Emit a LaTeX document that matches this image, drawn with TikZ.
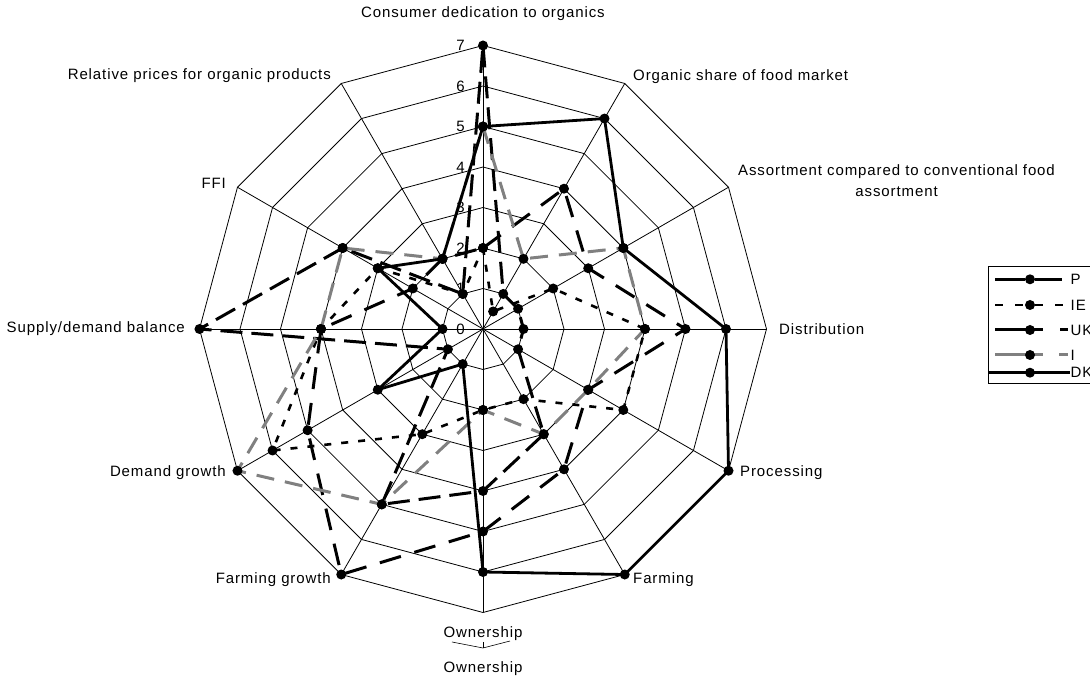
\documentclass[tikz,border=0pt]{standalone}
\usepackage{fontspec}
\setmainfont{Liberation Sans}
\newfontfamily\chartfont[LetterSpace=6]{Liberation Sans}
\begin{document}
\begin{tikzpicture}[x=1pt,y=1pt,
  grid/.style={line width=0.8pt, black},
  lab/.style={font=\chartfont\fontsize{15}{21.6}\selectfont, inner sep=0pt},
  serP/.style={line width=3pt, black, dash pattern=on 22pt off 9pt},
  serIE/.style={line width=2.6pt, black, dash pattern=on 7pt off 10pt},
  serUK/.style={line width=3pt, black, dash pattern=on 22pt off 14pt},
  serI/.style={line width=3pt, black!50, dash pattern=on 18pt off 11pt},
  serDK/.style={line width=2.8pt, black},
  keyP/.style={serP, dash pattern=on 30pt off 10pt},
  keyIE/.style={serIE, dash pattern=on 8pt off 12pt},
  keyUK/.style={serUK, dash pattern=on 48pt off 17pt},
  keyI/.style={serI, dash pattern=on 48pt off 16pt},
  keyDK/.style={serDK},
  dotmark/.style={fill=black}]
\useasboundingbox (-483,-350) rectangle (607,329);
\clip (-483,-350) rectangle (607,329);
\def\R{40.5}
% web of rings and spokes
\foreach \j in {1,...,7}
  \draw[grid] (90:\j*\R) \foreach \k in {1,...,11}{ -- (90-30*\k:\j*\R)} -- cycle;
\foreach \k in {0,...,11}
  \draw[grid] (0,0) -- (90-30*\k:7*\R);
% scale values on the vertical spoke
\foreach \j in {0,...,7}
  \node[lab, anchor=east] (tick\j) at (-18,\j*\R) {\j};
% category labels
\node[lab] (cat0) at (0,315) {Consumer dedication to organics};
\node[lab, anchor=west] (cat1) at (150,252) {Organic share of food market};
\node[lab, anchor=north west, align=center] (cat2) at (255,165) {Assortment compared to conventional food\\assortment};
\node[lab, anchor=west] (cat3) at (296,0) {Distribution};
\node[lab, anchor=west] (cat4) at (257,-144) {Processing};
\node[lab, anchor=west] (cat5) at (150,-251) {Farming};
\node[lab] (cat6) at (0,-305) {Ownership};
\node[lab, anchor=east] (cat7) at (-152,-251) {Farming growth};
\node[lab, anchor=east] (cat8) at (-257,-144) {Demand growth};
\node[lab, anchor=east] (cat9) at (-298,0) {Supply/demand balance};
\node[lab, anchor=east] (cat10) at (-257,146) {FFI};
\node[lab, anchor=east] (cat11) at (-152,253) {Relative prices for organic products};
\node[lab] (cat6b) at (0,-340) {Ownership};
% small spoke stub under the bottom label
\coordinate (stA) at (-31,-313);
\coordinate (stB) at (0,-319);
\coordinate (stC) at (27,-312);
\coordinate (stD) at (0,-313);
\draw[line width=0.6pt] (stA) -- (stB) -- (stC);
\draw[line width=0.6pt] (stD) -- (stB);
% data series
\foreach \v [count=\k from 0] in {7,1,1,1,1,3,4,5,1,7,4,1}
  \coordinate (P\k) at (90-30*\k:\v*\R);
\foreach \v [count=\k from 0] in {2,0.5,2,4,4,2,2,3,6,4,3,1}
  \coordinate (IE\k) at (90-30*\k:\v*\R);
\foreach \v [count=\k from 0] in {2,4,3,5,3,4,5,7,5,4,2,2}
  \coordinate (UK\k) at (90-30*\k:\v*\R);
\foreach \v [count=\k from 0] in {5,2,4,4,3,3,2,5,7,4,4,2}
  \coordinate (I\k) at (90-30*\k:\v*\R);
\foreach \v [count=\k from 0] in {5,6,4,6,7,7,6,1,3,1,3,2}
  \coordinate (DK\k) at (90-30*\k:\v*\R);
\foreach \s in {P,IE,UK,I,DK}{
  \draw[ser\s] (\s0) \foreach \k in {1,...,11}{ -- (\s\k)} -- cycle;
  \foreach \k in {0,...,11} \fill[dotmark] (\s\k) circle (5);
}
% legend
\node[draw, line width=0.8pt, minimum width=130pt, minimum height=117.6pt, anchor=north west, inner sep=0pt] (legbox) at (505,63.3) {};
\foreach \s/\y/\xa/\xb [count=\n] in {P/49.7/512/579,IE/24/512/585,UK/-1/512/585,I/-26/512/585,DK/-43.7/506/587}{
  \coordinate (la\n) at (\xa,\y);
  \coordinate (lb\n) at (\xb,\y);
  \coordinate (lm\n) at (547,\y);
  \node[lab, anchor=west] (lt\n) at (587.5,\y) {\s};
  \draw[key\s] (la\n) -- (lb\n);
  \fill[dotmark] (lm\n) circle (5);
}
\end{tikzpicture}
\end{document}
